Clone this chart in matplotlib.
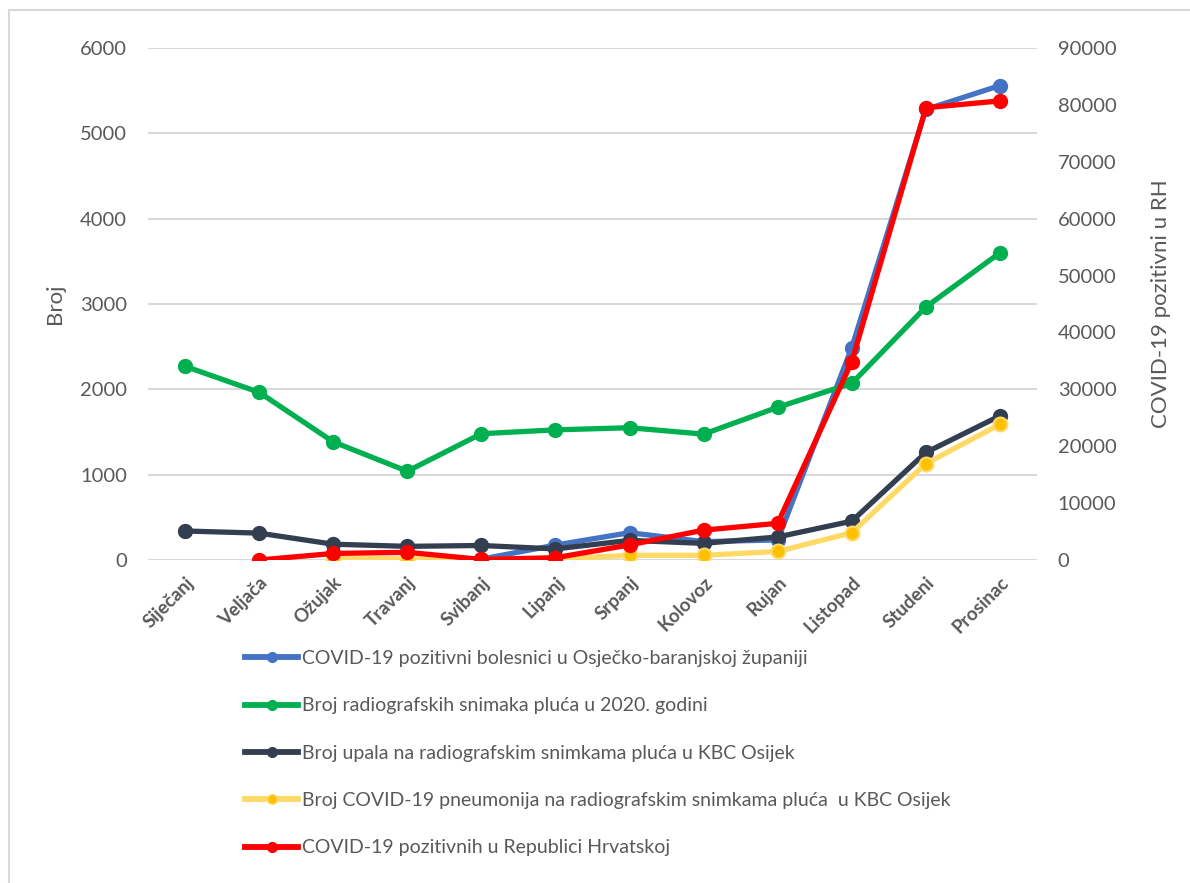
import numpy as np
import matplotlib
matplotlib.use("Agg")
import matplotlib.pyplot as plt
from matplotlib.lines import Line2D

plt.rcParams["font.family"] = ["Lato", "DejaVu Sans"]

# ------------------------------------------------------------
# data
# ------------------------------------------------------------
months = ["Siječanj", "Veljača", "Ožujak", "Travanj", "Svibanj", "Lipanj",
          "Srpanj", "Kolovoz", "Rujan", "Listopad", "Studeni", "Prosinac"]

nan = np.nan
obz_positive = [nan, nan, nan, nan, 10, 175, 320, 215, 235, 2490, 5280, 5560]
xray_total = [2270, 1965, 1385, 1040, 1480, 1525, 1550, 1475, 1790, 2070, 2965, 3600]
pneumonia_kbc = [340, 315, 185, 160, 170, 130, 230, 195, 270, 455, 1260, 1690]
covid_pneumonia = [nan, nan, 15, 15, 5, 10, 55, 55, 100, 320, 1130, 1590]
croatia_positive = [nan, 0, 1150, 1350, 100, 400, 2650, 5250, 6450, 34850, 79500, 80700]

labels = [
    "COVID-19 pozitivni bolesnici u Osječko-baranjskoj županiji",
    "Broj radiografskih snimaka pluća u 2020. godini",
    "Broj upala na radiografskim snimkama pluća u KBC Osijek",
    "Broj COVID-19 pneumonija na radiografskim snimkama pluća  u KBC Osijek",
    "COVID-19 pozitivnih u Republici Hrvatskoj",
]

c_blue = "#4472C4"
c_green = "#00B050"
c_navy = "#333F50"
c_yel_line = "#FFD966"
c_yel_mark = "#FFC000"
c_red = "#FF0000"
c_text = "#595959"
c_grid = "#D9D9D9"

# ------------------------------------------------------------
# figure
# ------------------------------------------------------------
fig = plt.figure(figsize=(11.9, 8.83), dpi=100)
ax = fig.add_axes([148 / 1190, 1 - 560 / 883, 889 / 1190, 512 / 883])
ax2 = ax.twinx()

x = np.arange(len(months))
lw = 3.8
ms = 10

ax.plot(x, obz_positive, color=c_blue, lw=lw, marker="o", ms=ms, zorder=3)
ax.plot(x, xray_total, color=c_green, lw=lw, marker="o", ms=ms, zorder=4)
ax.plot(x, pneumonia_kbc, color=c_navy, lw=lw, marker="o", ms=ms, zorder=5)
ax.plot(x, covid_pneumonia, color=c_yel_line, lw=lw, marker="o", ms=ms,
        mfc=c_yel_mark, mec=c_yel_line, mew=1.5, zorder=6)
ax2.plot(x, croatia_positive, color=c_red, lw=lw, marker="o", ms=ms, zorder=3)

ax.set_xlim(-0.5, 11.5)
ax.set_ylim(0, 6000)
ax2.set_ylim(0, 90000)
ax.set_yticks(np.arange(0, 6001, 1000))
ax2.set_yticks(np.arange(0, 90001, 10000))
ax.yaxis.grid(True, color=c_grid, lw=1.5, zorder=0)
ax.set_axisbelow(True)

ax.set_xticks(x)
ax.set_xticklabels(months, rotation=45, ha="right", rotation_mode="anchor",
                   fontweight="bold", fontsize=13.5, color=c_text)
ax.tick_params(axis="x", length=0, pad=10)
ax.tick_params(axis="y", length=0, pad=15, labelsize=14.5, labelcolor=c_text)
ax2.tick_params(axis="y", length=0, pad=15, labelsize=14.5, labelcolor=c_text)

for a in (ax, ax2):
    for s in a.spines.values():
        s.set_visible(False)

ax.set_ylabel("Broj", fontsize=16, color=c_text, labelpad=11)
ax2.set_ylabel("COVID-19 pozitivni u RH", fontsize=16, color=c_text, labelpad=25)

# legend below the plot, one entry per row
handles = [
    Line2D([], [], color=c_blue, lw=4.2, marker="o", ms=7),
    Line2D([], [], color=c_green, lw=4.2, marker="o", ms=7),
    Line2D([], [], color=c_navy, lw=4.2, marker="o", ms=7),
    Line2D([], [], color=c_yel_line, lw=4.2, marker="o", ms=7,
           mfc=c_yel_mark, mec=c_yel_line),
    Line2D([], [], color=c_red, lw=4.2, marker="o", ms=7),
]
leg = fig.legend(handles, labels, loc="upper left",
                 bbox_to_anchor=(245 / 1190, 1 - 650 / 883),
                 frameon=False, fontsize=14, handlelength=2.75,
                 handletextpad=0.2, labelspacing=1.56, borderpad=0,
                 borderaxespad=0)
for t in leg.get_texts():
    t.set_color(c_text)

# thin chart-area border (top and left visible in reference)
fig.add_artist(Line2D([9 / 1190, 9 / 1190], [0, 1 - 10 / 883],
                      transform=fig.transFigure, color=c_grid, lw=1.5))
fig.add_artist(Line2D([9 / 1190, 1], [1 - 10 / 883, 1 - 10 / 883],
                      transform=fig.transFigure, color=c_grid, lw=1.5))

fig.savefig("out.png", dpi=100)
